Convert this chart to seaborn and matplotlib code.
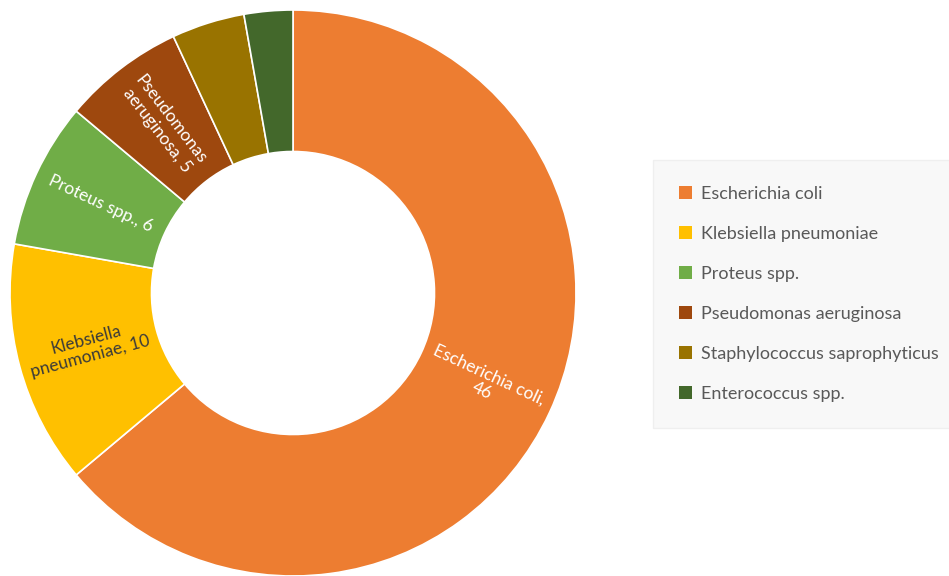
import numpy as np
import matplotlib
matplotlib.use("Agg")
import matplotlib.pyplot as plt
import seaborn as sns

categories = ["Escherichia coli", "Klebsiella pneumoniae", "Proteus spp.",
              "Pseudomonas aeruginosa", "Staphylococcus saprophyticus", "Enterococcus spp."]
values = [46, 10, 6, 5, 3, 2]
slice_labels = ["Escherichia coli,\n46", "Klebsiella\npneumoniae, 10", "Proteus spp., 6",
                "Pseudomonas\naeruginosa, 5", "", ""]
colors = ["#ED7D31", "#FFC000", "#70AD47", "#9E480E", "#997300", "#43682B"]
label_colors = ["white", "#3a3a3a", "white", "white", "white", "white"]

sns.set_theme(style="white")
plt.rcParams["font.family"] = ["Lato", "DejaVu Sans"]

fig = plt.figure(figsize=(9.49, 5.76), dpi=100)
ax = fig.add_axes([10 / 949, 0 / 576, 566 / 949, 566 / 576])

wedges, _ = ax.pie(values, colors=colors, startangle=90, counterclock=False,
                   radius=1.0, wedgeprops=dict(width=0.5, edgecolor="white", linewidth=1.2))
ax.set_xlim(-1, 1)
ax.set_ylim(-1, 1)
ax.set_aspect("equal")

total = sum(values)
cum = 0
for v, lab, tc in zip(values, slice_labels, label_colors):
    mid = 90 - 360 * (cum + v / 2) / total
    cum += v
    if not lab:
        continue
    r = 0.75
    x = r * np.cos(np.radians(mid))
    y = r * np.sin(np.radians(mid))
    rot = mid
    while rot > 90:
        rot -= 180
    while rot < -90:
        rot += 180
    ax.text(x, y, lab, ha="center", va="center", rotation=rot, rotation_mode="anchor",
            color=tc, fontsize=12.5, linespacing=1.1)

leg = fig.legend(wedges, categories, loc="upper left",
                 bbox_to_anchor=(658 / 949, 1 - 165 / 576),
                 frameon=True, fontsize=13, labelspacing=1.33,
                 handlelength=0.72, handleheight=0.72, handletextpad=0.5,
                 borderpad=1.15, borderaxespad=0)
leg.get_frame().set_facecolor("#f7f7f7")
leg.get_frame().set_edgecolor("#ececec")
leg.get_frame().set_boxstyle("square")
for t in leg.get_texts():
    t.set_color("#595959")
for h in leg.legend_handles:
    h.set_edgecolor("none")

fig.savefig("out.png", dpi=100, facecolor="white")
